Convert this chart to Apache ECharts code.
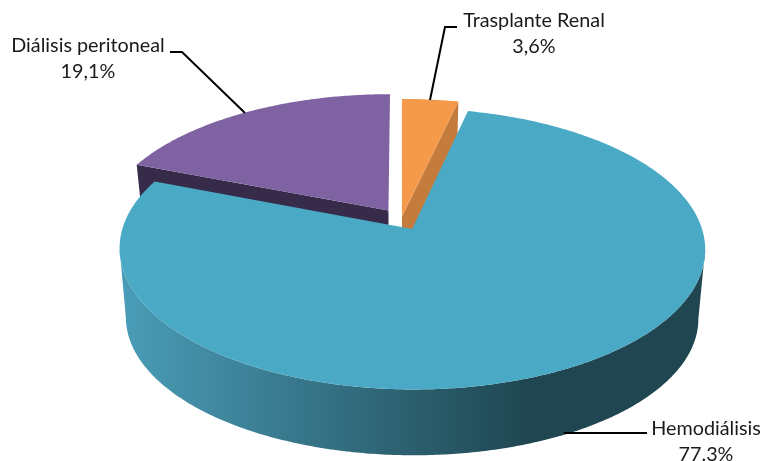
<!DOCTYPE html>
<html>
<head>
<meta charset="utf-8">
<script src="https://cdn.jsdelivr.net/npm/echarts@6/dist/echarts.min.js"></script>
<style>
  html, body { margin: 0; padding: 0; background: #fff; }
  #chart { width: 763px; height: 461px; }
</style>
</head>
<body>
<div id="chart"></div>
<script>
// slices clockwise from 12 o'clock
var categories = ["Trasplante Renal", "Hemodiálisis", "Diálisis peritoneal"];
var shares = [3.6, 77.3, 19.1];
var shareLabels = ["3,6%", "77.3%", "19,1%"];
var explode = [0.02, 0.08, 0.08];

var topColors = ["#f59a4b", "#4aa9c5", "#7f62a1"];
var faceColors = ["#c47c3c", "#1f4651", "#372b4a"];
var drawOrder = [1, 2, 0];

// leader lines and label anchors
var leaders = [
  [[457, 27], [445, 27], [430, 100]],
  [[647, 433], [564, 433]],
  [[170, 52], [182, 52], [245, 113]]
];
var labelPos = [[534, 34], [706, 442], [88, 59]];

// fake 3d: disc is projected with some perspective
var cam = { x: 401.3, y: 219.4, a: 287, b: 135, p: 0.14 };
var bottom = { x: 401.3, y: 288, a: 280, b: 131.3, p: 0.149 };

function project(u, v, c) {
  var s = 1 / (1 + c.p * v);
  return [c.x + c.a * u * s, c.y - c.b * v * s];
}

function sliceAngles(i) {
  var total = shares.reduce(function (a, b) { return a + b; }, 0);
  var before = 0;
  for (var k = 0; k < i; k++) before += shares[k];
  return [before / total * 2 * Math.PI, (before + shares[i]) / total * 2 * Math.PI];
}

function offsetOf(i) {
  var ang = sliceAngles(i);
  var mid = (ang[0] + ang[1]) / 2;
  return [Math.sin(mid) * explode[i], Math.cos(mid) * explode[i]];
}

function rim(i, c) {
  var ang = sliceAngles(i), off = offsetOf(i), pts = [];
  var n = Math.ceil((ang[1] - ang[0]) / 0.01);
  for (var k = 0; k <= n; k++) {
    var t = ang[0] + (ang[1] - ang[0]) * k / n;
    pts.push(project(off[0] + Math.sin(t), off[1] + Math.cos(t), c));
  }
  return pts;
}

function extremeX(pts, sign) {
  var best = 0;
  for (var k = 1; k < pts.length; k++) {
    if (sign * pts[k][0] > sign * pts[best][0]) best = k;
  }
  return best;
}

function renderSlice(params) {
  var i = params.dataIndex;
  var off = offsetOf(i), ang = sliceAngles(i);
  var topRim = rim(i, cam), lowRim = rim(i, bottom);
  var tipTop = project(off[0], off[1], cam), tipLow = project(off[0], off[1], bottom);
  var z = drawOrder[i] * 10;
  var last = topRim.length - 1;
  var children = [];

  // cut faces, only the ones turned towards the viewer
  if (Math.sin(ang[0]) < -0.01) {
    children.push({
      type: "polygon", z2: z,
      shape: { points: [tipTop, topRim[0], lowRim[0], tipLow] },
      style: { fill: faceColors[i] }
    });
  }
  if (Math.sin(ang[1]) > 0.01) {
    children.push({
      type: "polygon", z2: z + 1,
      shape: { points: [tipTop, topRim[last], lowRim[last], tipLow] },
      style: { fill: faceColors[i] }
    });
  }

  // outer wall, between the left and right silhouette of the two rims
  var topR = extremeX(topRim, 1), topL = extremeX(topRim, -1);
  var lowR = extremeX(lowRim, 1), lowL = extremeX(lowRim, -1);
  if (topR < topL) {
    children.push({
      type: "polygon", z2: z + 2,
      shape: { points: topRim.slice(topR, topL + 1).concat(lowRim.slice(lowR, lowL + 1).reverse()) },
      style: {
        fill: new echarts.graphic.LinearGradient(0, 0, 1, 0, [
          { offset: 0, color: "#4a9db8" },
          { offset: 0.7, color: faceColors[i] },
          { offset: 1, color: faceColors[i] }
        ])
      }
    });
  }

  children.push({
    type: "polygon", z2: z + 3,
    shape: { points: [tipTop].concat(topRim) },
    style: { fill: topColors[i] }
  });

  return { type: "group", children: children };
}

function renderLabel(params) {
  var i = params.dataIndex;
  return {
    type: "group",
    children: [
      {
        type: "polyline", z2: 50,
        shape: { points: leaders[i] },
        style: { fill: null, stroke: "#000", lineWidth: 2 }
      },
      {
        type: "text", z2: 51,
        style: {
          x: labelPos[i][0], y: labelPos[i][1],
          text: categories[i] + "\n" + shareLabels[i],
          font: "19.8px Lato",
          lineHeight: 26,
          fill: "#1a1a1a",
          align: "center",
          verticalAlign: "middle"
        }
      }
    ]
  };
}

var chart = echarts.init(document.getElementById("chart"));
chart.setOption({
  animation: false,
  backgroundColor: "#fff",
  series: [
    {
      type: "custom",
      name: "slices",
      coordinateSystem: "none",
      renderItem: renderSlice,
      data: shares
    },
    {
      type: "custom",
      name: "labels",
      coordinateSystem: "none",
      renderItem: renderLabel,
      data: shares
    }
  ]
});
</script>
</body>
</html>
